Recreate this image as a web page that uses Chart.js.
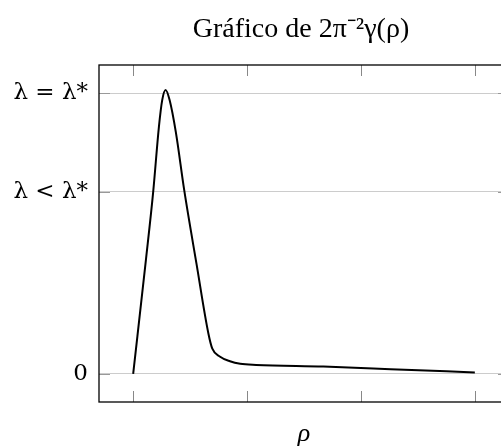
<!DOCTYPE html>
<html>
<head>
<meta charset="utf-8">
<script src="https://cdn.jsdelivr.net/npm/chart.js@4"></script>
<style>
  body { margin: 0; overflow: hidden; background: #fff; }
  #wrap { position: absolute; left: 0; top: 0; width: 602px; height: 447px; }
</style>
</head>
<body>
<div id="wrap"><canvas id="myChart"></canvas></div>
<script>
// values (x in units of the tick spacing, y relative to lambda*)
const rho   = [0, 0.112, 0.176, 0.226, 0.255, 0.285, 0.32, 0.375, 0.448, 0.557, 0.66, 0.695, 0.76, 0.85, 0.94, 1.08, 1.67, 2.26, 3];
const gamma = [0, 0.406, 0.649, 0.88, 0.975, 1.011, 0.975, 0.86, 0.655, 0.39, 0.145, 0.09, 0.062, 0.045, 0.036, 0.032, 0.026, 0.017, 0.005];

const xTicks = [0, 1, 2, 3];
const yTicks = [0, 0.648, 1];
const yLabels = ['0', 'λ < λ*', 'λ = λ*'];

const points = rho.map((r, i) => ({x: r, y: gamma[i]}));

// pgfplots style frame + inward tick marks
const frame = {
  id: 'frame',
  afterDraw(chart) {
    const c = chart.ctx, a = chart.chartArea;
    const x = chart.scales.x, y = chart.scales.y;
    c.save();
    c.lineWidth = 1;
    c.strokeStyle = '#888';
    xTicks.forEach(v => {
      const px = Math.round(x.getPixelForValue(v)) + 0.5;
      c.beginPath();
      c.moveTo(px, a.bottom); c.lineTo(px, a.bottom - 11);
      c.moveTo(px, a.top); c.lineTo(px, a.top + 11);
      c.stroke();
    });
    c.strokeStyle = '#999';
    yTicks.forEach(v => {
      const py = Math.round(y.getPixelForValue(v)) + 0.5;
      c.beginPath();
      c.moveTo(a.left, py); c.lineTo(a.left + 11, py);
      c.moveTo(a.right, py); c.lineTo(a.right - 11, py);
      c.stroke();
    });
    c.strokeStyle = '#000';
    c.lineWidth = 1.3;
    c.strokeRect(a.left, a.top, a.right - a.left, a.bottom - a.top);
    c.restore();
  }
};

const ctx = document.getElementById('myChart');
new Chart(ctx, {
  type: 'line',
  data: {
    datasets: [{
      data: points,
      borderColor: '#000',
      borderWidth: 2,
      pointRadius: 0,
      fill: false,
      cubicInterpolationMode: 'monotone'
    }]
  },
  options: {
    responsive: true,
    maintainAspectRatio: false,
    animation: false,
    layout: { padding: 0 },
    plugins: {
      legend: { display: false },
      tooltip: { enabled: false },
      title: {
        display: true,
        text: 'Gráfico de 2π⁻²γ(ρ)',
        color: '#000',
        font: { family: 'Liberation Serif', size: 28, weight: 'normal' },
        padding: { top: 13, bottom: 18.4 }
      }
    },
    scales: {
      x: {
        type: 'linear',
        min: -0.3,
        max: 3.3,
        grid: { display: false },
        border: { display: false },
        ticks: { display: false },
        title: {
          display: true,
          text: 'ρ',
          color: '#000',
          font: { family: 'Liberation Serif', size: 26, style: 'italic', lineHeight: 1 },
          padding: { top: 0, bottom: 0 }
        },
        afterFit(s) { s.height = 45; }
      },
      y: {
        type: 'linear',
        min: -0.1,
        max: 1.1,
        afterBuildTicks(s) { s.ticks = yTicks.map(v => ({value: v})); },
        grid: { color: '#cccccc', drawTicks: false },
        border: { display: false },
        ticks: {
          color: '#000',
          padding: 11,
          font: { family: 'DejaVu Serif', size: 23 },
          callback: (v) => yLabels[yTicks.indexOf(v)]
        },
        afterFit(s) { s.width = 99; }
      },
      y2: {
        position: 'right',
        display: true,
        grid: { display: false },
        border: { display: false },
        ticks: { display: false },
        afterFit(s) { s.width = 93; }
      }
    }
  },
  plugins: [frame]
});
</script>
</body>
</html>
